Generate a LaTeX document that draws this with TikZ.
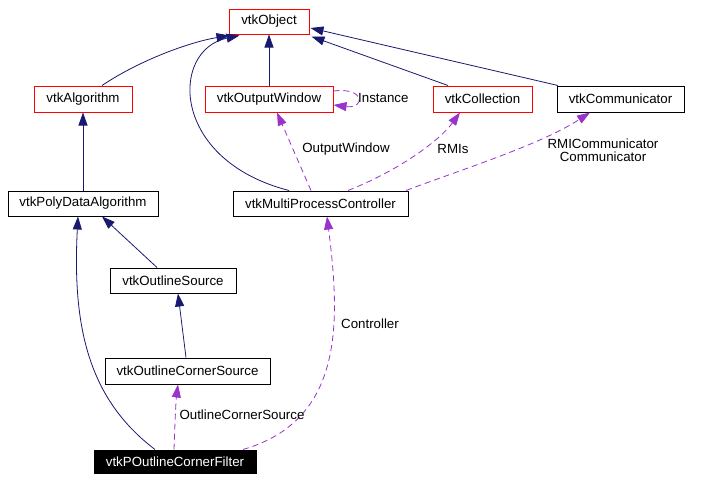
\documentclass[tikz,border=0pt]{standalone}
\usepackage{fontspec}
\setmainfont{Liberation Sans}
\usetikzlibrary{arrows.meta}
\definecolor{navyedge}{HTML}{191970}
\definecolor{purpleedge}{HTML}{9A32CD}
\begin{document}
\begin{tikzpicture}[x=1pt,y=-1pt,
  font=\fontsize{13.3}{15}\selectfont,
  box/.style={draw=black, line width=1pt, fill=white, inner sep=0pt, minimum height=25pt},
  redbox/.style={box, draw=red},
  inh/.style={draw=navyedge, line width=0.8pt, -{Triangle[length=13pt,width=9pt]}},
  use/.style={draw=purpleedge, line width=0.8pt, dash pattern=on 6pt off 4pt, -{Triangle[length=13pt,width=9pt]}},
  lbl/.style={inner sep=0pt}]
\useasboundingbox (0,0) rectangle (702,482);
\fill[white] (0,0) rectangle (702,482);

% nodes
\node[redbox, minimum width=80pt] (obj) at (269,21.5) {vtkObject};
\node[redbox, minimum width=98pt, minimum height=26pt] (alg) at (83,99) {vtkAlgorithm};
\node[redbox, minimum width=128pt, minimum height=26pt] (ow) at (269,99) {vtkOutputWindow};
\node[redbox, minimum width=99pt, minimum height=26pt] (coll) at (482.5,99) {vtkCollection};
\node[box, minimum width=127pt, minimum height=26pt] (comm) at (620.5,99) {vtkCommunicator};
\node[box, minimum width=150pt] (pda) at (83,203.5) {vtkPolyDataAlgorithm};
\node[box, minimum width=175pt] (mpc) at (320.5,203.5) {vtkMultiProcessController};
\node[box, minimum width=126pt] (os) at (173,280.5) {vtkOutlineSource};
\node[box, minimum width=165pt, minimum height=26pt] (ocs) at (187.5,371) {vtkOutlineCornerSource};
\node[box, fill=black, text=white, minimum width=162pt, minimum height=23pt] (filt) at (175,461.5) {vtkPOutlineCornerFilter};

% inheritance edges
\draw[inh] ([xshift=19pt]alg.north) .. controls (140,60) and (190,42) .. ([xshift=1pt,yshift=-1pt]obj.south west);
\draw[inh] ([xshift=-31.5pt]mpc.north) .. controls (170,160) and (170,50) .. ([xshift=11pt,yshift=-1pt]obj.south west);
\draw[inh] (ow.north) -- (obj.south);
\draw[inh] ([xshift=-34.5pt]coll.north) -- ([xshift=2pt,yshift=-2pt]obj.south east);
\draw[inh] ([xshift=-62.5pt]comm.north) -- ([xshift=1pt,yshift=-6.5pt]obj.east);
\draw[inh] (pda.north) -- (alg.south);
\draw[inh] ([xshift=-16pt]os.north) -- ([xshift=19pt]pda.south);
\draw[inh] ([xshift=-20pt]filt.north) .. controls (90,400) and (72,330) .. ([xshift=-5pt]pda.south);
\draw[inh] ([xshift=-1.5pt]ocs.north) -- ([xshift=5pt]os.south);

% usage edges
\draw[use] ([xshift=-1pt]filt.north) .. controls (175,420) and (176,400) .. ([xshift=-9.5pt]ocs.south);
\draw[use] ([xshift=68pt]filt.north) .. controls (345,420) and (340,320) .. ([xshift=6.5pt]mpc.south);
\draw[use] ([xshift=-9.5pt]mpc.north) -- ([xshift=8pt]ow.south);
\draw[use] ([xshift=27.5pt]mpc.north) .. controls (400,170) and (440,140) .. ([xshift=-22.5pt]coll.south);
\draw[use] ([xshift=85.5pt]mpc.north) .. controls (460,170) and (540,145) .. ([xshift=-30.5pt]comm.south);
\draw[use] ([yshift=8pt]ow.east) .. controls +(32,-4) and +(32,4) .. ([yshift=-6pt]ow.east);

% labels
\node[lbl, anchor=west] (linst) at (358,98) {Instance};
\node[lbl] (low) at (346,149) {OutputWindow};
\node[lbl] (lrmi) at (453,149) {RMIs};
\node[lbl, align=center, font=\fontsize{13.3}{13}\selectfont] (lcomm) at (603,150) {RMICommunicator\\Communicator};
\node[lbl] (lctrl) at (370,324) {Controller};
\node[lbl] (locs) at (242,415) {OutlineCornerSource};
\end{tikzpicture}
\end{document}
